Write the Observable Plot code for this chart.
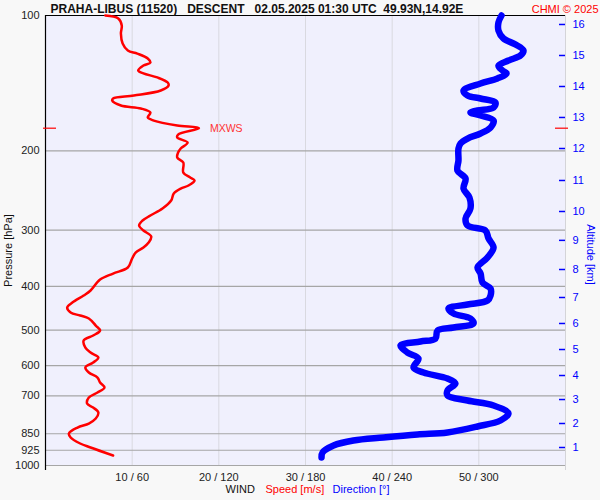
<!DOCTYPE html>
<html>
<head>
<meta charset="utf-8">
<script src="https://cdn.jsdelivr.net/npm/d3@7"></script>
<script src="https://cdn.jsdelivr.net/npm/@observablehq/plot@0.6"></script>
<style>
  html, body { margin: 0; padding: 0; background: #f8f8f8; }
  #chart { width: 600px; height: 500px; }
</style>
</head>
<body>
<div id="chart"></div>
<script>
// ---- data ----
const title = "PRAHA-LIBUS (11520)\u00a0\u00a0\u00a0DESCENT\u00a0\u00a0\u00a002.05.2025 01:30 UTC\u00a0\u00a049.93N,14.92E";
const credit = "CHMI © 2025";

const pressureTicks = [100, 200, 300, 400, 500, 600, 700, 850, 925, 1000];
const speedTicks = [10, 20, 30, 40, 50];
const altitudeKm = [16, 15, 14, 13, 12, 11, 10, 9, 8, 7, 6, 5, 4, 3, 2, 1];
const altitudePressure = [104.7, 122.7, 143.8, 168.5, 197.5, 232.6, 272.6, 316, 366.8, 423.3, 483.5, 552.4, 631, 713.5, 806.6, 912];

const maxWindPressure = 178;
const maxWindSpeed = 17.7;

// wind speed [m/s] vs pressure [hPa]
const speedPressure = [100, 101.5, 105.2, 109.6, 115.4, 119.6, 121.5, 124.6, 127.2, 129.2, 132.5, 134.5, 137.3, 140.9, 143.1, 146.8, 150.6, 152.9, 154.5, 158.5, 160.9, 164.3, 168.5, 171.2, 175.6, 178, 183.9, 186.7, 191.6, 197.5, 201.6, 206.8, 212.2, 223.4, 229.1, 232.6, 238.7, 242.4, 248.6, 257.7, 268.5, 278.3, 285.5, 292.9, 300.5, 309.8, 319.6, 327.8, 336.3, 346.7, 363.1, 374.5, 386.2, 408.5, 419.1, 434.4, 445.6, 457.1, 464.2, 471.4, 488.6, 501.2, 514.2, 527.6, 546.8, 561.0, 575.4, 590.4, 605.6, 621.4, 637.5, 654.1, 671.0, 688.5, 706.3, 728.3, 743.4, 762.6, 786.4, 806.8, 823.4, 849.0, 866.5, 893.5, 912.0, 950.1];
const speed = [6.9, 8.4, 8.8, 8.7, 8.9, 9.5, 10.6, 11.8, 12.1, 11.3, 10.7, 11.3, 12.9, 14.1, 14.2, 13.3, 10.2, 7.8, 7.7, 8.7, 11.0, 12.1, 11.8, 12.5, 15.2, 17.7, 15.3, 15.2, 16.4, 15.6, 15.3, 15.2, 15.9, 15.9, 16.7, 17.2, 16.5, 15.6, 14.8, 14.5, 13.5, 12.1, 11.2, 10.8, 11.3, 12.2, 11.9, 11.3, 10.4, 10.0, 9.5, 7.8, 6.3, 5.2, 4.4, 3.1, 2.5, 2.9, 4.0, 5.0, 5.8, 6.3, 5.5, 4.4, 4.6, 5.2, 6.1, 5.5, 4.6, 5.0, 6.0, 6.3, 6.8, 6.0, 5.0, 4.8, 5.5, 6.1, 5.8, 5.0, 3.7, 2.7, 2.9, 4.0, 5.2, 7.8];

// wind direction [deg] vs pressure [hPa]
const dirPressure = [100, 103.6, 108.0, 112.5, 116.0, 119.6, 122.7, 125.9, 129.2, 132.5, 134.5, 138.0, 141.6, 146.8, 150.6, 152.9, 156.1, 160.1, 162.6, 164.3, 166.8, 171.2, 177.4, 182.9, 187.7, 192.5, 197.5, 210.0, 221.1, 230.2, 242.4, 253.8, 268.5, 282.5, 292.9, 300.5, 313.0, 327.8, 345.0, 363.1, 374.5, 392.0, 404.3, 419.1, 429.9, 438.8, 447.9, 459.5, 471.4, 483.5, 493.5, 501.2, 522.2, 530.3, 541.2, 561.0, 578.4, 605.6, 621.4, 640.8, 657.4, 681.3, 698.9, 717.1, 735.6, 766.2, 794.3, 819.0, 844.6, 853.3, 866.5, 879.9, 902.6, 935.6, 959.8];
const direction = [315.7, 313.6, 313.6, 317.1, 325.4, 330.9, 328.8, 320.5, 313.6, 316.4, 319.2, 312.9, 301.2, 289.4, 292.2, 301.2, 311.5, 310.2, 299.1, 294.2, 301.2, 310.2, 308.1, 301.2, 292.2, 287.3, 285.9, 285.9, 285.2, 290.8, 289.4, 293.5, 294.2, 290.8, 292.2, 304.6, 306.7, 310.2, 306.0, 299.1, 301.2, 302.5, 308.1, 308.1, 306.0, 292.2, 279.0, 282.5, 294.2, 296.3, 282.5, 271.4, 270.0, 259.6, 245.8, 250.6, 258.2, 254.8, 261.7, 278.3, 283.8, 278.3, 278.3, 292.2, 310.2, 320.5, 315.0, 299.1, 278.3, 257.5, 234.0, 213.2, 199.4, 191.8, 191.1];

// ---- tables built from arrays ----
const speedData = speedPressure.map((p, i) => ({p, v: speed[i]}));
// direction shares the x scale: 360 deg == 60 m/s
const dirData = dirPressure.map((p, i) => ({p, v: direction[i] / 6}));
const kmByPressure = new Map(altitudePressure.map((p, i) => [p, altitudeKm[i]]));

const FONT = "'Liberation Sans', Arial, Helvetica, sans-serif";

const chart = Plot.plot({
  width: 600,
  height: 500,
  marginTop: 15,
  marginBottom: 35,
  marginLeft: 45,
  marginRight: 35,
  style: {fontFamily: FONT, fontSize: "11px", background: "#f8f8f8", color: "#222"},
  x: {domain: [0, 60], axis: null},
  y: {type: "log", domain: [100, 1000], reverse: true, axis: null},
  marks: [
    Plot.frame({fill: "#f0f0fd", stroke: null}),
    Plot.ruleX(speedTicks, {stroke: "#d9d9e0", strokeWidth: 1}),
    Plot.ruleY(pressureTicks.filter(d => d !== 100), {stroke: "#a6a6a6", strokeWidth: 1.2}),
    Plot.ruleX([60], {stroke: "#d4d4d8", insetBottom: -5}),
    Plot.ruleY([100], {stroke: "#000", strokeWidth: 1.2}),
    Plot.ruleX([0], {stroke: "#000", strokeWidth: 1.2, insetBottom: -5}),
    // axes
    Plot.axisX({anchor: "bottom", ticks: speedTicks, tickFormat: d => `${d} / ${d * 6}`, tickSize: 0, tickPadding: 8, label: null, fill: "#222"}),
    Plot.axisY({anchor: "left", ticks: pressureTicks, tickFormat: d => String(d), tickSize: 0, tickPadding: 6, label: null, fill: "#222"}),
    Plot.tickY(altitudePressure, {y: d => d, stroke: "blue", strokeWidth: 1.5, insetLeft: 514}),
    Plot.axisY({anchor: "right", ticks: altitudePressure, tickFormat: d => kmByPressure.get(d), tickSize: 0, tickPadding: 7, label: null, fill: "blue"}),
    // max wind markers
    Plot.tickY([maxWindPressure], {y: d => d, stroke: "red", strokeWidth: 1.2, insetLeft: -2, insetRight: 509}),
    Plot.tickY([maxWindPressure], {y: d => d, stroke: "red", strokeWidth: 1.2, insetLeft: 510, insetRight: -3}),
    // series
    Plot.line(dirData, {x: "v", y: "p", stroke: "blue", strokeWidth: 6.5, strokeLinecap: "round", strokeLinejoin: "round", curve: "catmull-rom"}),
    Plot.line(speedData, {x: "v", y: "p", stroke: "red", strokeWidth: 2.5, strokeLinejoin: "round", curve: "catmull-rom"}),
    Plot.text(["MXWS"], {x: maxWindSpeed, y: maxWindPressure, dx: 11, textAnchor: "start", fill: "#ff3333", fontSize: 10.5}),
    // titles and labels
    Plot.text([title], {frameAnchor: "top-left", dx: 5, dy: -3, lineAnchor: "bottom", textAnchor: "start", fontWeight: "bold", fontSize: 12, fill: "#111"}),
    Plot.text([credit], {frameAnchor: "top-right", dx: 33, dy: -3, lineAnchor: "bottom", textAnchor: "end", fontSize: 11, fill: "red"}),
    Plot.text(["Pressure [hPa]"], {frameAnchor: "left", dx: -37, dy: 10, rotate: -90, textAnchor: "middle", fontSize: 11, fill: "#111"}),
    Plot.text(["Altitude [km]"], {frameAnchor: "right", dx: 25, dy: 14, rotate: 90, textAnchor: "middle", fontSize: 11, fill: "blue"}),
    Plot.text(["WIND"], {frameAnchor: "bottom", dx: -80, dy: 27, textAnchor: "start", fontSize: 11, fill: "#111"}),
    Plot.text(["Speed [m/s]"], {frameAnchor: "bottom", dx: -40, dy: 27, textAnchor: "start", fontSize: 11, fill: "red"}),
    Plot.text(["Direction [°]"], {frameAnchor: "bottom", dx: 27, dy: 27, textAnchor: "start", fontSize: 11, fill: "blue"})
  ]
});
document.getElementById("chart").appendChild(chart);
</script>
</body>
</html>
